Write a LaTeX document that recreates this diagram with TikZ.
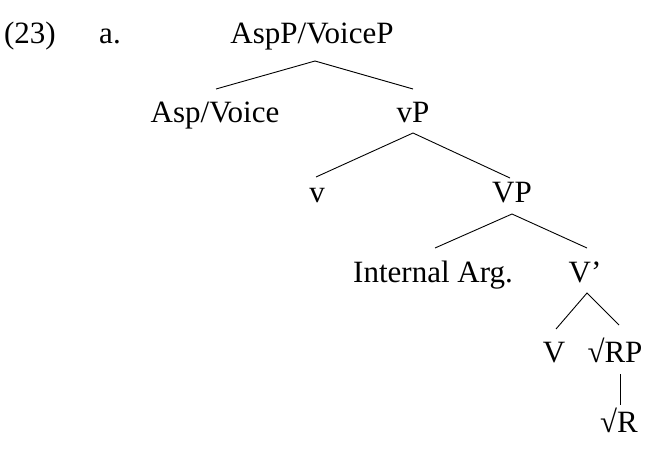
\documentclass[tikz,border=0pt]{standalone}
\usepackage{fontspec}
\setmainfont{Liberation Serif}
\begin{document}
\begin{tikzpicture}[x=1pt,y=-1pt,
  lbl/.style={anchor=base,inner sep=0pt,font=\fontsize{31}{36}\selectfont},
  branch/.style={line width=0.9pt}]
\useasboundingbox (0,0) rectangle (652,450);
% example number and sub-label
\node[lbl] (num) at (30,43) {(23)};
\node[lbl] (sub) at (110,43) {a.};
% tree nodes
\node[lbl] (aspvp) at (312,43) {AspP/VoiceP};
\node[lbl] (asp)   at (215,122) {Asp/Voice};
\node[lbl] (vp)    at (413,122) {vP};
\node[lbl] (v)     at (317,202) {v};
\node[lbl] (VP)    at (512,202) {VP};
\node[lbl] (arg)   at (433,282) {Internal Arg.};
\node[lbl] (vbar)  at (585,282) {V’};
\node[lbl] (V)     at (554,362) {V};
\node[lbl] (rp)    at (615,362) {√RP};
\node[lbl] (r)     at (619,432) {√R};
% branches
\draw[branch] ([xshift=1pt,yshift=33pt]asp.base) -- ([xshift=3pt,yshift=-18pt]aspvp.base)
              -- ([yshift=33pt]vp.base);
\draw[branch] ([xshift=-1pt,yshift=25pt]v.base) -- ([yshift=-11pt]vp.base)
              -- ([xshift=-2pt,yshift=24pt]VP.base);
\draw[branch] ([xshift=2pt,yshift=34pt]arg.base) -- ([yshift=-12pt]VP.base)
              -- ([xshift=2pt,yshift=34pt]vbar.base);
\draw[branch] ([xshift=2pt,yshift=33pt]V.base) -- ([xshift=2pt,yshift=-11pt]vbar.base)
              -- ([xshift=4pt,yshift=37pt]rp.base);
\draw[branch] ([xshift=5pt,yshift=-12pt]rp.base) -- ([xshift=1pt,yshift=27pt]r.base);
\end{tikzpicture}
\end{document}
